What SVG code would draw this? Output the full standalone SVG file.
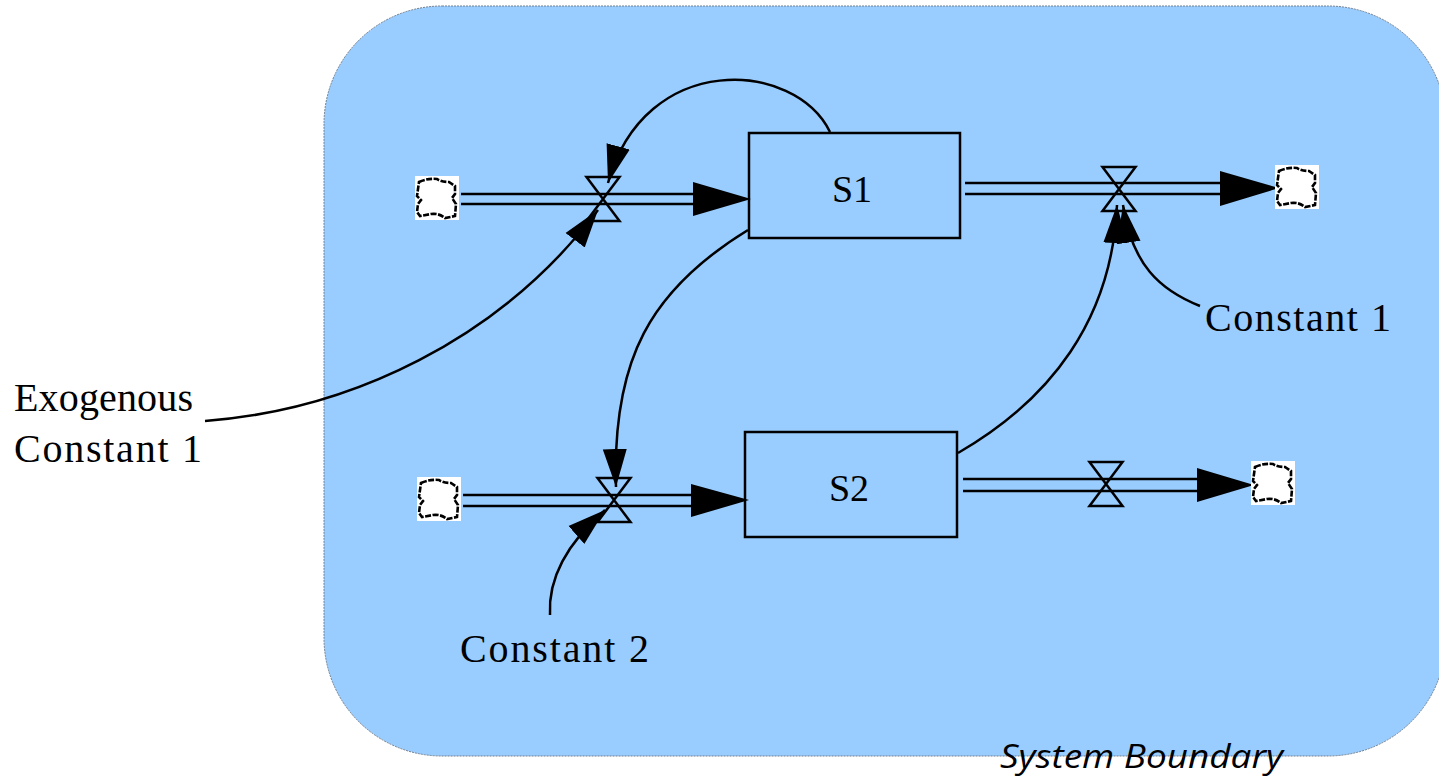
<svg xmlns="http://www.w3.org/2000/svg" width="1439" height="778" viewBox="0 0 1439 778">
<style>
.lbl{font-family:"Liberation Serif","Times New Roman",serif;font-size:40px;fill:#000}
.stk{font-family:"Liberation Serif","Times New Roman",serif;font-size:38px;fill:#000}
.pipe{stroke:#000;stroke-width:2.5;fill:none}
.link{stroke:#000;stroke-width:2.5;fill:none;marker-end:url(#ah)}
.valve{stroke:#000;stroke-width:2.5;fill:none;stroke-linejoin:miter}
.head{fill:#000}
.stock{fill:none;stroke:#000;stroke-width:2.5}
</style>
<defs>
<marker id="ah" markerUnits="userSpaceOnUse" markerWidth="42" markerHeight="28" viewBox="0 -14 42 28" refX="38" refY="0" orient="auto">
<path d="M0,-12 L38,0 L0,12 Z" fill="#000"/>
</marker>
<g id="cloud">
<rect x="0" y="0" width="44" height="44" fill="#fff"/>
<path d="M4,6 Q13,2 22,3 Q26,6 34,6 L40,10 L40,18 L37,22 L41,28 L40,40 L30,42 Q24,37 16,38 L5,40 L2,36 L3,28 L6,24 L2,20 Z" fill="#fff" stroke="#000" stroke-width="2.6" stroke-dasharray="6,1.5"/>
</g>
<path id="valve" d="M-16.5,-22 L16.5,-22 L-16.5,22 L16.5,22 Z"/>
</defs>

<g id="boundary">
<rect x="324" y="6" width="1122" height="750" rx="118" ry="118" fill="#99ccff" stroke="#6f7f8f" stroke-width="1" stroke-dasharray="2,1"/>
<text x="1000" y="768" font-family="'Open Sans','DejaVu Sans',sans-serif" font-style="italic" font-size="33" textLength="283" lengthAdjust="spacingAndGlyphs">System Boundary</text>
</g>

<g id="connectors">
<line class="pipe" x1="461" y1="194" x2="696" y2="194"/>
<line class="pipe" x1="461" y1="204" x2="696" y2="204"/>
<polygon class="head" points="693,182 751,199 693,216"/>
<line class="pipe" x1="965" y1="183" x2="1222" y2="183"/>
<line class="pipe" x1="965" y1="194" x2="1222" y2="194"/>
<polygon class="head" points="1220,171 1279,188 1220,206"/>
<line class="pipe" x1="463" y1="495" x2="694" y2="495"/>
<line class="pipe" x1="463" y1="506" x2="694" y2="506"/>
<polygon class="head" points="691,484 749,500 691,517"/>
<line class="pipe" x1="963" y1="479" x2="1199" y2="479"/>
<line class="pipe" x1="963" y1="491" x2="1199" y2="491"/>
<polygon class="head" points="1197,468 1254,485 1197,502"/>
<path class="link" d="M830,132 C795,60 645,50 608,183"/>
<path class="link" d="M205,421 C350,410 500,340 598,210"/>
<path class="link" d="M748,230 C650,290 612,360 616,487"/>
<path class="link" d="M550,615 C548,580 565,545 605,510"/>
<path class="link" d="M958,453 C1050,400 1112,320 1117,205"/>
<path class="link" d="M1200,306 C1160,290 1132,265 1123,205"/>
</g>

<g id="cloud1"><use href="#cloud" x="415" y="176"/></g>
<g id="cloud2"><use href="#cloud" x="1275" y="165"/></g>
<g id="cloud3"><use href="#cloud" x="417" y="477"/></g>
<g id="cloud4"><use href="#cloud" x="1251" y="461"/></g>

<g id="valve1"><use href="#valve" class="valve" x="603" y="199"/></g>
<g id="valve2"><use href="#valve" class="valve" x="1119" y="189"/></g>
<g id="valve3"><use href="#valve" class="valve" x="614" y="500"/></g>
<g id="valve4"><use href="#valve" class="valve" x="1106" y="484"/></g>

<g id="S1">
<rect class="stock" x="749" y="133" width="211" height="105"/>
<text class="stk" x="852" y="202" text-anchor="middle">S1</text>
</g>
<g id="S2">
<rect class="stock" x="745" y="432" width="212" height="105"/>
<text class="stk" x="849" y="501" text-anchor="middle">S2</text>
</g>

<g id="exogenous">
<text class="lbl" x="14" y="411" textLength="179" lengthAdjust="spacing">Exogenous</text>
<text class="lbl" x="14" y="462" textLength="188" lengthAdjust="spacing">Constant 1</text>
</g>
<g id="constant1">
<text class="lbl" x="1205" y="331" textLength="186" lengthAdjust="spacing">Constant 1</text>
</g>
<g id="constant2">
<text class="lbl" x="460" y="662" textLength="189" lengthAdjust="spacing">Constant 2</text>
</g>
</svg>
